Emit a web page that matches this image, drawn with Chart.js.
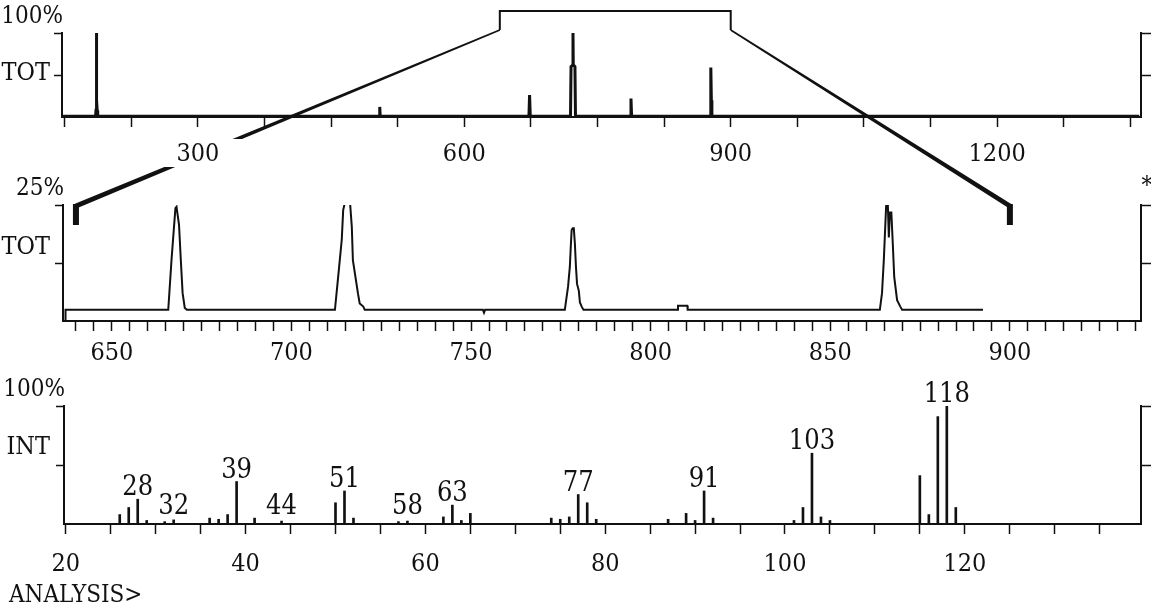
<!DOCTYPE html>
<html>
<head>
<meta charset="utf-8">
<script src="https://cdn.jsdelivr.net/npm/chart.js@4.4.0/dist/chart.umd.min.js"></script>
<style>
  html, body { margin: 0; padding: 0; background: #fff; }
  #wrap { position: relative; width: 1151px; height: 609px; overflow: hidden; }
  #wrap canvas { position: absolute; left: 0; top: 0; }
</style>
</head>
<body>
<div id="wrap">
  <canvas id="ticChart" width="1151" height="609"></canvas>
  <canvas id="midChart" width="1151" height="609"></canvas>
  <canvas id="msChart" width="1151" height="609"></canvas>
</div>
<script>
// full run, total ion current (scan no. vs % of largest)
const ticScans  = [147, 184.8, 185.3, 185.7, 185.9, 186.1, 186.6, 187.2, 504.3, 504.8, 505.3,
                   672.8, 673.5, 674.3, 719.6, 720.2, 722.1, 722.4, 722.7, 724.6, 725.2,
                   787, 787.7, 788.4, 876.8, 877.4, 877.8, 878.2, 878.8, 1360];
const ticValues = [1, 1, 8, 20, 100, 20, 8, 1, 1, 12, 1,
                   1, 26, 1, 1, 60, 62, 100, 62, 60, 1,
                   1, 22, 1, 1, 20, 59, 20, 1, 1];
const ticTickLabels = [300, 600, 900, 1200];

// window of the run shown enlarged in the middle panel
const zoomFrom = 640;
const zoomTo = 900;
const midScans  = [637, 637.1,
                   665.7, 666.6, 667.3, 667.7, 668.0, 668.7, 669.2, 669.7, 670.3, 670.9,
                   712.1, 713, 714, 714.4, 714.9, 716.3, 716.8, 717.1, 718.5, 719, 720, 720.4,
                   753.3, 753.6, 753.9,
                   776.1, 776.6, 777, 777.5, 777.8, 778, 778.3, 778.6, 778.9, 779.2, 779.5, 780, 780.3, 780.8, 781.3,
                   807.5, 807.6, 810.2, 810.3,
                   863.8, 864.4, 864.9, 865.3, 865.6, 866, 866.3, 866.6, 867, 867.4, 867.8, 868.6, 869.5, 870,
                   892.5];
const midValues = [0, 2.4,
                   2.4, 13.1, 20.3, 24.3, 24.6, 20.7, 13.1, 6, 2.8, 2.4,
                   2.4, 9.5, 17.5, 23.9, 25.6, 25.6, 20.3, 13.1, 6, 3.8, 3.1, 2.4,
                   2.4, 1.8, 2.4,
                   2.4, 5.2, 7.4, 11.7, 16.7, 19.6, 20, 20, 16.7, 11.7, 8, 6.5, 4, 3.1, 2.4,
                   2.4, 3.3, 3.3, 2.4,
                   2.4, 6, 13.1, 20.3, 25.7, 25.7, 18, 23.4, 23.4, 16.7, 9.5, 4.5, 3.1, 2.4,
                   2.4];
const midTickLabels = [650, 700, 750, 800, 850, 900];

// mass spectrum (m/z vs relative intensity %)
const msMasses      = [26, 27, 28, 29, 31, 32, 36, 37, 38, 39, 41, 44, 50, 51, 52, 57, 58,
                       62, 63, 64, 65, 74, 75, 76, 77, 78, 79, 87, 89, 90, 91, 92,
                       101, 102, 103, 104, 105, 115, 116, 117, 118, 119];
const msIntensities = [8, 14, 21, 3, 2, 3.5, 5, 4, 8, 36, 5, 2.5, 18, 28, 5, 2, 2.5,
                       6, 16, 3, 9, 5, 4, 6, 25, 18, 4, 4, 9, 3, 28, 5,
                       3, 14, 60, 6, 3, 41, 8, 91, 100, 14];
const msLabelled    = [28, 32, 39, 44, 51, 58, 63, 77, 91, 103, 118];
const msTickLabels  = [20, 40, 60, 80, 100, 120];

const INK = '#111';
const FAMILY = '"DejaVu Serif Condensed", "DejaVu Sans Condensed", "Liberation Serif", serif';
const tickFont = { family: FAMILY, size: 25 };

const fixedWidth = w => s => { s.width = w; };
const fixedHeight = h => s => { s.height = h; };
const endTicks = s => { s.ticks = [{ value: s.max / 2 }, { value: s.max }]; };

function sideAxes(max, name, labelOffset, leftWidth, pad) {
  const grid = { drawOnChartArea: false, color: INK, tickColor: INK, tickLength: 8, tickWidth: 1.5 };
  return {
    y: {
      position: 'left', min: 0, max,
      afterBuildTicks: endTicks, afterFit: fixedWidth(leftWidth),
      grid, border: { color: INK, width: 2 },
      ticks: { color: INK, font: tickFont, padding: pad, labelOffset,
               callback: v => (v === max / 2 ? name : '') }
    },
    yR: {
      position: 'right', min: 0, max,
      afterBuildTicks: endTicks, afterFit: fixedWidth(10),
      grid: { ...grid, tickLength: 10 }, border: { color: INK, width: 2 },
      ticks: { display: false }
    }
  };
}

function xAxis(min, max, step, labels, pad, extra) {
  return {
    type: 'linear', min, max, offset: false, afterFit: fixedHeight(50),
    grid: { offset: false, drawOnChartArea: false, color: INK, tickColor: INK, tickLength: 10, tickWidth: 1.5 },
    border: { color: INK, width: 2 },
    ticks: Object.assign({ stepSize: step, includeBounds: false, autoSkip: false, maxRotation: 0,
             color: INK, font: tickFont, padding: pad,
             callback: v => (labels.includes(v) ? String(v) : '') }, extra || {})
  };
}

function baseOptions(padding, scales, plugins) {
  return {
    responsive: false, animation: false, devicePixelRatio: 1, events: [],
    layout: { padding, autoPadding: false },
    plugins: Object.assign({ legend: { display: false }, tooltip: { enabled: false } }, plugins || {}),
    scales
  };
}

function writePercent(chart, text) {
  const { ctx, chartArea: a } = chart;
  ctx.save();
  ctx.fillStyle = INK;
  ctx.font = `24px ${FAMILY}`;
  ctx.textAlign = 'right';
  ctx.textBaseline = 'middle';
  ctx.fillText(text, a.left + 1, a.top - 16);
  ctx.restore();
}

// middle panel: enlarged part of the run, 25% full scale
const midChart = new Chart(document.getElementById('midChart'), {
  type: 'line',
  data: {
    datasets: [{
      data: midScans.map((s, i) => ({ x: s, y: midValues[i] })),
      borderColor: INK, borderWidth: 2, pointRadius: 0, tension: 0
    }]
  },
  options: baseOptions({ left: 0, right: 0, top: 205, bottom: 238 }, {
    x: xAxis(636.4, 936.5, 5, midTickLabels, 7),
    ...sideAxes(25, 'TOT', -16, 63, 5)
  }),
  plugins: [{
    id: 'midText',
    afterDraw(chart) {
      writePercent(chart, '25%');
      const { ctx, chartArea: a } = chart;
      ctx.save();
      ctx.fillStyle = INK;
      ctx.font = `24px ${FAMILY}`;
      ctx.textAlign = 'center';
      ctx.textBaseline = 'middle';
      ctx.fillText('*', a.right + 6, a.top - 18);
      ctx.restore();
    }
  }]
});

// bottom panel: mass spectrum as sticks
const msChart = new Chart(document.getElementById('msChart'), {
  type: 'bar',
  data: {
    datasets: [{
      data: msMasses.map((m, i) => ({ x: m, y: msIntensities[i] })),
      backgroundColor: INK, barThickness: 2
    }]
  },
  options: baseOptions({ left: 0, right: 0, top: 406, bottom: 35 }, {
    x: xAxis(19.8, 139.6, 5, msTickLabels, 15),
    ...sideAxes(100, 'INT', -18, 64, 6)
  }),
  plugins: [{
    id: 'msText',
    afterDraw(chart) {
      writePercent(chart, '100%');
      const { ctx, chartArea: a } = chart;
      const xs = chart.scales.x, ys = chart.scales.y;
      ctx.save();
      ctx.fillStyle = INK;
      ctx.font = `27px ${FAMILY}`;
      ctx.textAlign = 'center';
      ctx.textBaseline = 'alphabetic';
      msLabelled.forEach(m => {
        const h = msIntensities[msMasses.indexOf(m)];
        ctx.fillText(String(m), xs.getPixelForValue(m), ys.getPixelForValue(Math.max(h, 5)) - 4);
      });
      ctx.font = `24px ${FAMILY}`;
      ctx.textAlign = 'left';
      ctx.fillText('ANALYSIS>', 9, a.bottom + 78);
      ctx.restore();
    }
  }]
});

// tapered stroke from (x0,y0) to (x1,y1)
function taper(ctx, x0, y0, x1, y1, w0, w1) {
  const dx = x1 - x0, dy = y1 - y0, len = Math.hypot(dx, dy);
  const nx = -dy / len, ny = dx / len;
  ctx.beginPath();
  ctx.moveTo(x0 + nx * w0 / 2, y0 + ny * w0 / 2);
  ctx.lineTo(x1 + nx * w1 / 2, y1 + ny * w1 / 2);
  ctx.lineTo(x1 - nx * w1 / 2, y1 - ny * w1 / 2);
  ctx.lineTo(x0 - nx * w0 / 2, y0 - ny * w0 / 2);
  ctx.closePath();
  ctx.fill();
}

// top panel: whole run, with the zoom window linked to the middle panel
const ticChart = new Chart(document.getElementById('ticChart'), {
  type: 'line',
  data: {
    datasets: [{
      data: ticScans.map((s, i) => ({ x: s, y: ticValues[i] })),
      borderColor: INK, borderWidth: 3, pointRadius: 0, tension: 0
    }]
  },
  options: baseOptions({ left: 0, right: 0, top: 33, bottom: 442 }, {
    x: xAxis(147, 1362, 75, ticTickLabels, 12, {
      showLabelBackdrop: true,
      // only the first label sits on the left link line; blank it there
      backdropColor: c => (c.tick && c.tick.value === ticTickLabels[0] ? '#fff' : 'rgba(0,0,0,0)'),
      backdropPadding: { left: 24, right: 26, top: 0, bottom: 4 }
    }),
    ...sideAxes(100, 'TOT', -2, 62, 4)
  }),
  plugins: [{
    id: 'zoomLink',
    beforeDraw(chart) {
      const { ctx, chartArea: a } = chart;
      const tx = chart.scales.x, mx = midChart.scales.x, ma = midChart.chartArea;
      const t0 = tx.getPixelForValue(zoomFrom), t1 = tx.getPixelForValue(zoomTo);
      const m0 = mx.getPixelForValue(zoomFrom), m1 = mx.getPixelForValue(zoomTo);
      const boxTop = a.top - 22, boxFoot = a.top - 3;
      const brTop = ma.top + 1, brEnd = ma.top + 20;
      ctx.save();
      ctx.strokeStyle = INK;
      ctx.fillStyle = INK;
      ctx.lineWidth = 2;
      ctx.beginPath();
      ctx.moveTo(t0, boxFoot); ctx.lineTo(t0, boxTop); ctx.lineTo(t1, boxTop); ctx.lineTo(t1, boxFoot);
      ctx.stroke();
      taper(ctx, t0, boxFoot, m0, brTop, 1.6, 5);
      taper(ctx, t1, boxFoot, m1, brTop, 1.6, 5);
      ctx.fillRect(m0 - 3, brTop - 2, 6, brEnd - brTop + 2);
      ctx.fillRect(m1 - 3, brTop - 2, 6, brEnd - brTop + 2);
      ctx.restore();
    },
    afterDraw(chart) { writePercent(chart, '100%'); }
  }]
});
</script>
</body>
</html>
